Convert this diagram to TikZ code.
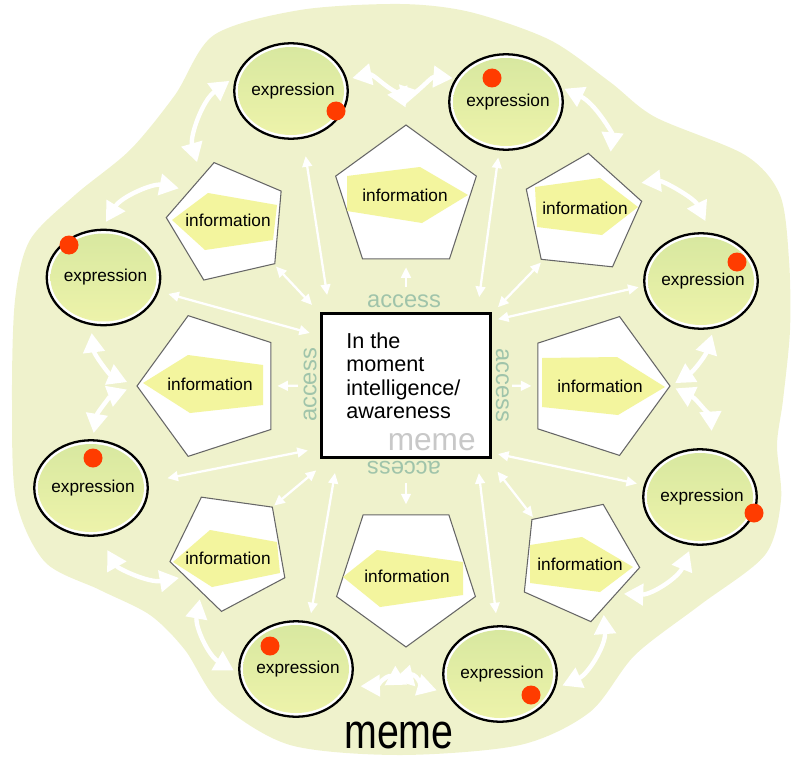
\documentclass[tikz,border=0pt]{standalone}
\usepackage{fontspec}
\setmainfont{Liberation Sans}
\usetikzlibrary{arrows.meta,shapes.geometric}

\definecolor{blobbg}{RGB}{239,242,204}
\definecolor{exgreen}{RGB}{216,232,160}
\definecolor{exyellow}{RGB}{237,243,170}
\definecolor{infoyellow}{RGB}{243,245,158}
\definecolor{dotred}{RGB}{255,60,0}
\definecolor{accessgreen}{RGB}{160,196,170}
\definecolor{memegray}{RGB}{200,200,200}

\tikzset{
  ring/.style={ellipse, draw=black, line width=1.3pt, fill=white, minimum width=2.27cm, minimum height=1.91cm, inner sep=0pt},
  core/.style={ellipse, top color=exgreen, bottom color=exyellow, minimum width=2.12cm, minimum height=1.76cm, inner sep=0pt},
  extext/.style={font=\fontsize{9.8}{11}\selectfont, inner sep=0pt},
  info/.style={regular polygon, regular polygon sides=5, draw=black!60, line width=0.6pt, fill=white, inner sep=0pt},
  infotext/.style={font=\fontsize{9.8}{11}\selectfont, inner sep=0pt},
  access/.style={text=accessgreen, font=\fontsize{13.5}{14}\selectfont, inner sep=0pt},
  link/.style={white, line width=2.5pt, {Triangle[length=11pt,width=12pt]}-{Triangle[length=11pt,width=12pt]}},
  spoke/.style={white, line width=1.3pt, {Triangle[length=6pt,width=5.5pt]}-{Triangle[length=6pt,width=5.5pt]}},
  reach/.style={white, line width=1.3pt, -{Triangle[length=6pt,width=5.5pt]}},
}

\begin{document}
\begin{tikzpicture}[x=0.02cm, y=-0.02cm]
\useasboundingbox (0,0) rectangle (794,757);

% pale background blob
\fill[blobbg] plot[smooth cycle] coordinates {(400,4) (470,12) (550,40) (610,82) (655,117) (745,155) (780,195) (789,260) (790,330) (783,400) (777,445) (781,500) (765,555) (700,605) (635,655) (590,712) (520,745) (400,755) (290,745) (220,703) (185,650) (150,615) (100,590) (45,562) (16,500) (12,400) (15,300) (30,240) (75,195) (130,150) (175,95) (214,35) (300,10)};

% centre box
\node[draw, line width=1.6pt, fill=white, minimum width=3.39cm, minimum height=2.89cm, inner sep=0pt] (mind) at (406,385.5) {};
\node[anchor=north west, align=left, inner sep=0pt, font=\fontsize{12.3}{13.4}\selectfont] (mindtext) at (346,332) {In the\\moment\\intelligence/\\awareness};
\node[anchor=base east, inner sep=0pt, text=memegray, font=\fontsize{18}{18}\selectfont] (mindmeme) at (476,450) {meme};

% access labels round the box
\node[access] (accN) at (404,301) {access};
\node[access, rotate=90] (accW) at (310,385) {access};
\node[access, rotate=-90] (accE) at (502.5,385) {access};
\node[access, rotate=180] (accS) at (404,467.5) {access};

% information pentagons
\foreach \n/\x/\y/\r/\s in {N/406/199/0/2.96cm, S/406/574/180/2.92cm, W/211/386/90/2.96cm, E/597/386/-90/2.92cm,
    NW/228/223/13/2.48cm, NE/582/214/-6/2.44cm, SW/230/551/28/2.44cm, SE/578/561/-24/2.48cm}
  \node[info, shape border rotate=\r, minimum size=\s] (p\n) at (\x,\y) {};

% yellow arrows inside the pentagons
\fill[infoyellow] (347,176) -- (420,167) -- (468,195) -- (422,223) -- (347,211) -- cycle;
\fill[infoyellow] (535,187) -- (600,178) -- (638,207) -- (602,235) -- (537,227) -- cycle;
\fill[infoyellow] (542,358) -- (617,357) -- (665,387) -- (618,415) -- (542,407) -- cycle;
\fill[infoyellow] (530,545) -- (582,537) -- (633,567) -- (600,592) -- (530,583) -- cycle;
\fill[infoyellow] (343,577) -- (377,550) -- (463,562) -- (463,595) -- (380,607) -- cycle;
\fill[infoyellow] (173,562) -- (210,530) -- (277,542) -- (280,573) -- (212,587) -- cycle;
\fill[infoyellow] (143,383) -- (188,355) -- (263,365) -- (263,405) -- (190,413) -- cycle;
\fill[infoyellow] (172,220) -- (208,193) -- (277,205) -- (273,240) -- (205,250) -- cycle;

\foreach \n/\x/\y in {N/405/195, NE/585/208, E/600/386, SE/580/564, S/407/576, SW/228/558, W/210/384, NW/228/220}
  \node[infotext] (t\n) at (\x,\y) {information};

% expression ellipses with their red dots
\foreach \n/\x/\y/\dx/\dy in {N1/291/91/45/20, N2/506/102/-14/-24, NE/701/281/36/-19, E/700/497/54/16,
    SE/500/674/31/21, SW/296/669/-26/-23, W/91/488/2/-30, NW/103.5/277.5/-34.5/-32.5} {
  \node[ring] (e\n) at (\x,\y) {};
  \node[core] (c\n) at (\x,\y) {};
  \node[extext] (x\n) at (\x+2,\y) {expression};
  \fill[dotred] (\x+\dx,\y+\dy) circle (9.5);
}

% ring of curved links, clockwise
\foreach \a/\b/\sa/\sb/\bnd in {eN1.12/pN.100/3pt/16pt/60, pN.80/eN2.155/16pt/1.5pt/60,
    eN2.15/pNE.58/2pt/11pt/35, pNE.35/eNE.78/10pt/7.5pt/35,
    eNE.-75/pE.0/3.5pt/3pt/20, pE.0/eE.75/3pt/10.5pt/30,
    eE.-100/pSE.-40/3.5pt/4pt/35, pSE.-62/eSE.-15/3.5pt/4.5pt/35,
    eSE.-160/pS.-80/6pt/15pt/45, pS.-100/eSW.-18/15pt/6pt/45,
    eSW.-176/pSW.-125/3pt/4pt/35, pSW.-150/eW.-80/3.5pt/9pt/35,
    eW.88/pW.180/3.5pt/5.7pt/30, pW.180/eNW.-105/5.7pt/4.5pt/30,
    eNW.92/pNW.140/4.5pt/6pt/35, pNW.120/eN1.165/8.5pt/4.5pt/35}
  \draw[link, shorten <=\sa, shorten >=\sb] (\a) to[bend left=\bnd] (\b);

% straight spokes from the box
\foreach \a/\b/\sa/\sb in {mind.136/eN1.-76/9.7pt/10pt, mind.46/eN2.-98/8.5pt/4pt,
    mind.150/eNW.-14/5.9pt/5.5pt, mind.37/eNE.185/3.4pt/2.8pt,
    mind.-144/eW.6/7pt/11pt, mind.-38/eE.168/3.4pt/4pt,
    mind.-133/eSW.74/8pt/4.8pt, mind.-46/eSE.93/8pt/6.8pt,
    mind.140/pNW.-42/6.5pt/1.7pt, mind.40/pNE.-130/4.8pt/2pt,
    mind.-136/pSW.46/10pt/1pt, mind.-42/pSE.136/9pt/1pt}
  \draw[spoke, shorten <=\sa, shorten >=\sb] (\a) -- (\b);

\foreach \a/\b/\sa/\sb in {mind.90/pN.-90/14pt/4.5pt, mind.-90/pS.90/13.6pt/5.7pt,
    mind.180/pW.0/12.5pt/3.4pt, mind.0/pE.180/11.4pt/3.4pt}
  \draw[reach, shorten <=\sa, shorten >=\sb] (\a) -- (\b);

% title under the ring
\node[inner sep=0pt, font=\fontsize{28}{28}\selectfont, xscale=0.8] (memetitle) at (399,735) {meme};
\end{tikzpicture}
\end{document}
